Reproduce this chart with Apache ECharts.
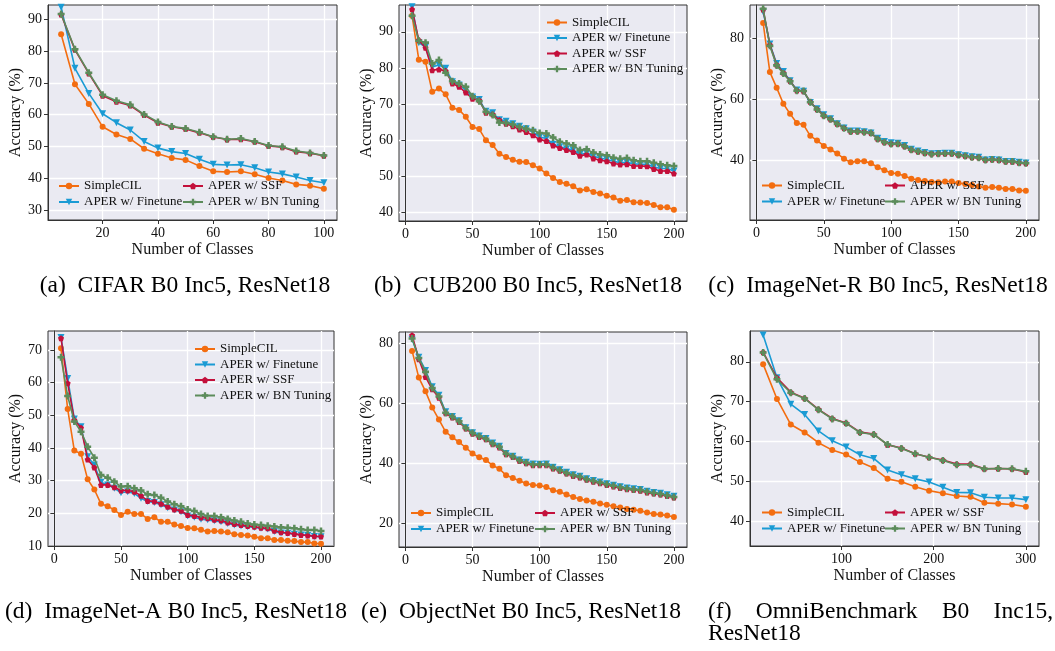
<!DOCTYPE html>
<html><head><meta charset="utf-8">
<script src="https://cdn.jsdelivr.net/npm/echarts@6/dist/echarts.min.js"></script>
<style>html,body{margin:0;padding:0;background:#fff}#c{width:1055px;height:651px}</style>
</head><body><div id="c"></div>
<script>
// ---------------- DATA ----------------
const seriesNames = ['SimpleCIL', 'APER w/ Finetune', 'APER w/ SSF', 'APER w/ BN Tuning'];

// (a) CIFAR B0 Inc5
const cifarX = [5,10,15,20,25,30,35,40,45,50,55,60,65,70,75,80,85,90,95,100];
const cifarSimple   = [85.3,69.6,63.4,56.2,53.8,52.4,49.3,47.7,46.4,45.8,43.9,42.2,42.0,42.2,41.3,40.1,39.3,38.1,37.7,36.7];
const cifarFinetune = [93.8,74.6,66.7,60.3,57.5,55.2,51.6,49.5,48.4,47.8,46.0,44.4,44.2,44.3,43.3,42.0,41.4,40.4,39.3,38.6];
const cifarSSF      = [91.5,80.4,73.0,66.0,64.1,62.9,59.9,57.5,56.2,55.5,54.3,53.0,52.2,52.3,51.5,50.2,49.8,48.4,47.9,47.1];
const cifarBN       = [91.7,80.6,73.2,66.3,64.4,63.1,60.1,57.7,56.3,55.7,54.5,53.1,52.3,52.5,51.6,50.3,49.9,48.6,48.0,47.2];

// shared x for 200-class benchmarks
const x200 = [5,10,15,20,25,30,35,40,45,50,55,60,65,70,75,80,85,90,95,100,105,110,115,120,125,130,135,140,145,150,155,160,165,170,175,180,185,190,195,200];

// (b) CUB200 B0 Inc5
const cubSimple   = [94.4,82.3,81.7,73.4,74.3,72.7,69.0,68.4,66.5,63.7,63.1,60.0,58.7,56.3,55.4,54.6,54.1,54.0,53.1,52.2,50.8,49.6,48.5,48.0,47.3,46.1,46.5,45.7,45.3,44.7,44.2,43.3,43.5,42.9,42.8,42.7,42.1,41.5,41.5,40.8];
const cubFinetune = [96.9,87.0,85.8,80.3,80.8,79.9,76.2,75.3,73.9,72.0,71.3,68.0,67.6,65.7,65.3,64.6,63.9,63.2,62.3,60.9,60.5,58.9,58.2,57.7,57.3,56.1,56.5,55.6,55.1,54.7,54.2,53.8,53.9,53.5,53.4,53.4,52.6,52.2,52.2,51.5];
const cubSSF      = [96.2,87.7,85.6,79.4,79.6,79.2,75.7,74.8,73.2,71.5,71.1,67.6,67.2,65.6,64.6,63.9,63.0,62.3,61.4,60.2,59.8,58.6,57.9,57.3,56.8,55.7,56.1,55.0,54.5,54.2,53.6,53.3,53.4,52.9,52.9,52.8,52.1,51.5,51.5,50.8];
const cubBN       = [94.4,87.5,87.0,81.2,82.2,78.7,76.3,75.7,74.8,72.2,70.8,67.9,67.0,64.9,64.8,64.4,63.7,63.2,62.8,62.0,61.9,60.8,59.6,59.1,58.6,57.3,57.5,56.6,56.1,55.9,55.2,54.9,55.1,54.5,54.2,54.2,53.8,53.4,53.1,52.9];

// (c) ImageNet-R B0 Inc5
const inrSimple   = [84.9,68.8,63.7,58.4,55.1,52.1,51.5,47.9,46.4,44.6,43.4,42.1,40.4,39.2,39.6,39.6,38.9,37.6,36.6,35.7,35.5,34.7,33.8,33.4,33.1,32.8,32.7,32.9,32.9,32.4,32.1,31.8,31.3,30.9,31.1,30.9,30.5,30.5,30.0,29.9];
const inrFinetune = [88.6,78.0,71.6,69.0,66.0,62.9,62.5,58.8,56.8,54.8,53.5,51.9,50.5,49.5,49.5,49.2,48.8,47.1,46.0,45.6,45.5,44.7,43.5,42.9,42.4,42.0,42.1,42.2,42.2,41.7,41.4,41.0,40.9,40.0,40.1,40.0,39.5,39.5,39.2,39.0];
const inrSSF      = [89.3,77.8,71.2,68.6,65.9,62.8,62.5,59.0,56.6,54.6,53.3,51.8,50.5,49.3,49.4,49.2,48.8,46.9,45.8,45.3,45.3,44.5,43.3,42.8,42.3,42.0,42.0,42.1,42.1,41.6,41.3,40.9,40.8,40.0,40.1,40.0,39.5,39.4,39.1,38.9];
const inrBN       = [89.6,77.4,71.0,68.3,65.8,62.7,62.6,58.9,56.5,54.5,53.3,51.8,50.4,49.3,49.3,49.1,48.8,46.9,45.8,45.2,45.3,44.5,43.3,42.8,42.3,41.9,42.0,42.1,42.1,41.6,41.3,40.9,40.7,40.0,40.1,40.0,39.5,39.5,39.1,38.9];

// (d) ImageNet-A B0 Inc5
const inaSimple   = [70.5,51.9,39.2,38.2,30.4,27.3,22.9,22.2,21.0,19.5,20.5,19.8,19.8,18.3,18.8,17.4,17.4,16.6,16.1,15.5,15.4,15.0,14.4,14.6,14.4,14.2,13.6,13.4,13.2,12.8,12.4,12.4,11.8,11.8,11.6,11.5,11.2,11.2,10.8,10.7];
const inaFinetune = [73.8,61.3,48.9,46.5,37.3,34.8,29.5,28.7,27.7,26.3,26.6,26.1,24.6,23.6,23.3,22.6,21.7,21.0,20.5,19.2,18.8,18.2,18.0,17.7,17.4,16.9,16.4,16.1,15.9,15.7,15.4,15.2,14.4,14.0,13.9,13.6,13.4,13.2,12.9,12.8];
const inaSSF      = [73.6,59.8,48.6,46.2,36.5,34.0,28.7,28.7,28.0,27.0,27.0,26.6,25.4,23.8,23.6,22.9,22.0,21.2,20.8,19.5,19.2,18.7,18.5,18.0,17.8,17.2,16.7,16.4,16.1,15.9,15.6,15.4,14.7,14.2,14.0,13.7,13.4,13.2,13.0,12.9];
const inaBN       = [67.8,55.9,48.1,45.0,40.4,37.0,31.7,30.9,29.7,28.2,28.3,27.7,27.0,25.8,25.6,24.8,23.6,22.8,22.2,21.2,20.7,19.8,19.2,19.2,18.8,18.3,17.8,17.4,16.9,16.6,16.4,16.2,16.0,15.7,15.6,15.4,15.1,14.9,14.9,14.6];

// (e) ObjectNet B0 Inc5
const objSimple   = [77.6,68.7,64.1,58.7,54.7,50.6,48.8,47.2,45.3,43.4,42.1,41.2,39.4,38.3,36.1,35.2,34.3,33.4,32.9,32.7,32.2,31.1,30.6,29.7,28.9,28.2,27.7,27.3,26.7,26.3,25.8,25.4,24.9,24.6,24.3,23.7,23.2,23.0,22.7,22.2];
const objFinetune = [81.5,75.5,71.1,65.6,62.8,57.3,55.7,54.3,52.0,50.3,49.2,48.4,46.9,45.8,43.4,42.5,41.2,40.5,39.9,39.8,39.9,38.8,38.0,37.1,36.3,35.8,35.0,34.4,33.9,33.3,32.8,32.3,31.9,31.6,31.4,30.8,30.4,30.1,29.6,29.1];
const objSSF      = [82.8,74.8,68.9,64.8,62.0,56.8,55.4,53.9,51.7,50.0,48.9,48.1,46.5,45.4,43.1,42.2,40.9,40.1,39.5,39.5,39.5,38.4,37.6,36.7,35.9,35.4,34.6,34.0,33.5,32.9,32.4,31.9,31.5,31.2,31.0,30.4,30.0,29.7,29.2,28.7];
const objBN       = [81.7,75.2,70.6,65.2,62.4,57.0,55.6,54.1,51.9,50.2,49.1,48.3,46.7,45.6,43.3,42.4,41.1,40.3,39.7,39.7,39.7,38.6,37.8,36.9,36.1,35.6,34.8,34.2,33.7,33.1,32.6,32.1,31.7,31.4,31.2,30.6,30.2,29.9,29.4,28.9];

// (f) OmniBenchmark B0 Inc15
const omniX = [15,30,45,60,75,90,105,120,135,150,165,180,195,210,225,240,255,270,285,300];
const omniSimple   = [79.4,70.7,64.3,62.3,59.75,57.9,56.8,54.9,53.4,50.7,50.0,48.75,47.75,47.1,46.4,46.2,44.7,44.5,44.3,43.75];
const omniFinetune = [86.7,76.0,69.4,66.8,62.7,60.25,58.7,56.75,55.8,52.9,51.75,50.7,49.9,48.6,47.3,47.25,46.1,45.9,45.9,45.5];
const omniSSF      = [82.4,76.0,72.4,70.9,68.1,65.8,64.7,62.4,61.9,59.2,58.4,57.0,56.1,55.4,54.4,54.4,53.2,53.3,53.2,52.4];
const omniBN       = [82.3,75.6,72.25,70.8,68.0,65.7,64.6,62.3,61.8,59.3,58.3,57.0,56.1,55.3,54.25,54.25,53.2,53.3,53.2,52.6];

// tick labels
const ticksX100 = [20,40,60,80,100];
const ticksX200 = [0,50,100,150,200];
const ticksX300 = [100,200,300];
const ticksYa = [30,40,50,60,70,80,90];
const ticksYb = [40,50,60,70,80,90];
const ticksYc = [40,60,80];
const ticksYd = [10,20,30,40,50,60,70];
const ticksYe = [20,40,60,80];
const ticksYf = [40,50,60,70,80];

const captions = [
  '(a)  CIFAR B0 Inc5, ResNet18',
  '(b)  CUB200 B0 Inc5, ResNet18',
  '(c)  ImageNet-R B0 Inc5, ResNet18',
  '(d)  ImageNet-A B0 Inc5, ResNet18',
  '(e)  ObjectNet B0 Inc5, ResNet18'
];
const captionF1Words = ['(f)', 'OmniBenchmark', 'B0', 'Inc15,'];
const captionF2 = 'ResNet18';

// ---------------- STYLE / LAYOUT ----------------
const FONT = 'Liberation Serif';
const colors = ['#f36d10', '#1a9bd4', '#c3103b', '#5c8c5b'];
const pentagon = 'path://M0,-1L0.951,-0.309L0.588,0.809L-0.588,0.809L-0.951,-0.309Z';
const plusP = 'path://M-1,-0.36L-0.36,-0.36L-0.36,-1L0.36,-1L0.36,-0.36L1,-0.36L1,0.36L0.36,0.36L0.36,1L-0.36,1L-0.36,0.36L-1,0.36Z';
const symbols = ['circle', 'triangle', pentagon, plusP];
const symRot = [0, 180, 0, 0];
const symSize = [6, 7, 6, 7];

const panels = [
  {x: cifarX, ys: [cifarSimple, cifarFinetune, cifarSSF, cifarBN],
   grid: {left: 48, top: 5, width: 289, height: 215}, xr: [0.25, 104.75], yr: [26.9, 94.5], xt: ticksX100, yt: ticksYa,
   legends: [{left: 58, top: 179.5, items: [0, 1]}, {left: 182, top: 179.5, items: [2, 3]}]},
  {x: x200, ys: [cubSimple, cubFinetune, cubSSF, cubBN],
   grid: {left: 399, top: 5, width: 288, height: 216}, xr: [-4.75, 209.75], yr: [37.7, 97.4], xt: ticksX200, yt: ticksYb,
   legends: [{left: 546, top: 16, gap: 2.5, items: [0, 1, 2, 3]}]},
  {x: x200, ys: [inrSimple, inrFinetune, inrSSF, inrBN],
   grid: {left: 750, top: 5, width: 289, height: 215}, xr: [-4.75, 209.75], yr: [20.3, 90.8], xt: ticksX200, yt: ticksYc,
   legends: [{left: 761, top: 179, items: [0, 1]}, {left: 884, top: 179, items: [2, 3]}]},
  {x: x200, ys: [inaSimple, inaFinetune, inaSSF, inaBN],
   grid: {left: 48, top: 331, width: 286, height: 215}, xr: [-4.75, 209.75], yr: [10, 75.8], xt: ticksX200, yt: ticksYd,
   legends: [{left: 194, top: 342.5, gap: 2.5, items: [0, 1, 2, 3]}]},
  {x: x200, ys: [objSimple, objFinetune, objSSF, objBN],
   grid: {left: 399, top: 332, width: 288, height: 215}, xr: [-4.75, 209.75], yr: [12.2, 83.9], xt: ticksX200, yt: ticksYe,
   legends: [{left: 410, top: 506.5, items: [0, 1]}, {left: 534, top: 506.5, items: [2, 3]}]},
  {x: omniX, ys: [omniSimple, omniFinetune, omniSSF, omniBN],
   grid: {left: 750, top: 331, width: 289, height: 215}, xr: [0.75, 314.25], yr: [33.9, 87.7], xt: ticksX300, yt: ticksYf,
   legends: [{left: 761, top: 506, items: [0, 1]}, {left: 884, top: 506, items: [2, 3]}]}
];

const grids = [], xAxes = [], yAxes = [], series = [], legends = [];
const axisColor = '#333';
panels.forEach((p, i) => {
  grids.push(Object.assign({show: true, backgroundColor: '#eaeaf2', borderColor: axisColor, borderWidth: 1, containLabel: false}, p.grid));
  xAxes.push({
    type: 'value', gridIndex: i, min: p.xr[0], max: p.xr[1],
    name: 'Number of Classes', nameLocation: 'middle', nameGap: 22,
    nameTextStyle: {fontFamily: FONT, fontSize: 16, color: '#111'},
    axisLine: {show: true, lineStyle: {color: axisColor, width: 1}},
    axisTick: {show: true, length: 4, inside: false, lineStyle: {color: axisColor}, customValues: p.xt},
    axisLabel: {fontFamily: FONT, fontSize: 14, color: '#111', margin: 6, customValues: p.xt},
    splitLine: {show: true, lineStyle: {color: '#ffffff', width: 1.3}}
  });
  yAxes.push({
    type: 'value', gridIndex: i, min: p.yr[0], max: p.yr[1],
    name: 'Accuracy (%)', nameLocation: 'middle', nameGap: 18,
    nameTextStyle: {fontFamily: FONT, fontSize: 16, color: '#111'},
    axisLine: {show: true, lineStyle: {color: axisColor, width: 1}},
    axisTick: {show: true, length: 4, inside: false, lineStyle: {color: axisColor}, customValues: p.yt},
    axisLabel: {fontFamily: FONT, fontSize: 14, color: '#111', margin: 6, customValues: p.yt},
    splitLine: {show: true, lineStyle: {color: '#ffffff', width: 1.3}}
  });
  p.ys.forEach((ys, k) => {
    series.push({
      type: 'line', name: seriesNames[k], xAxisIndex: i, yAxisIndex: i,
      data: p.x.map((xv, j) => [xv, ys[j]]),
      symbol: symbols[k], symbolRotate: symRot[k], symbolSize: symSize[k], showSymbol: true,
      lineStyle: {color: colors[k], width: 1.6},
      itemStyle: {color: colors[k]},
      clip: true, z: 2 + k, animation: false, silent: true
    });
  });
  p.legends.forEach(L => {
    legends.push({
      orient: 'vertical', left: L.left, top: L.top, padding: 0,
      itemGap: L.gap !== undefined ? L.gap : 3, itemWidth: 20, itemHeight: 8,
      selectedMode: false,
      textStyle: {fontFamily: FONT, fontSize: 13, color: '#111'},
      data: L.items.map(k => seriesNames[k])
    });
  });
});

const capFont = '23.5px "' + FONT + '"';
const capCenters = [[185, 286], [528, 286], [878, 286], [176, 612], [521, 612]];
const graphics = captions.map((t, i) => ({
  type: 'text', x: capCenters[i][0], y: capCenters[i][1],
  style: {text: t, font: capFont, fill: '#000', align: 'center', verticalAlign: 'middle'}
}));
// (f) caption: first line justified between 708 and 1053, second line left-aligned
const mctx = document.createElement('canvas').getContext('2d');
mctx.font = capFont;
const fLeft = 708, fRight = 1053;
const wW = captionF1Words.map(w => mctx.measureText(w).width);
const gapF = (fRight - fLeft - wW.reduce((a, b) => a + b, 0)) / (captionF1Words.length - 1);
let cx = fLeft;
captionF1Words.forEach((t, i) => {
  graphics.push({type: 'text', x: cx, y: 612,
    style: {text: t, font: capFont, fill: '#000', align: 'left', verticalAlign: 'middle'}});
  cx += wW[i] + gapF;
});
graphics.push({type: 'text', x: fLeft, y: 634,
  style: {text: captionF2, font: capFont, fill: '#000', align: 'left', verticalAlign: 'middle'}});

const chart = echarts.init(document.getElementById('c'), null, {renderer: 'canvas'});
chart.setOption({
  animation: false,
  backgroundColor: '#ffffff',
  grid: grids, xAxis: xAxes, yAxis: yAxes, series: series, legend: legends,
  graphic: graphics
});
</script></body></html>
